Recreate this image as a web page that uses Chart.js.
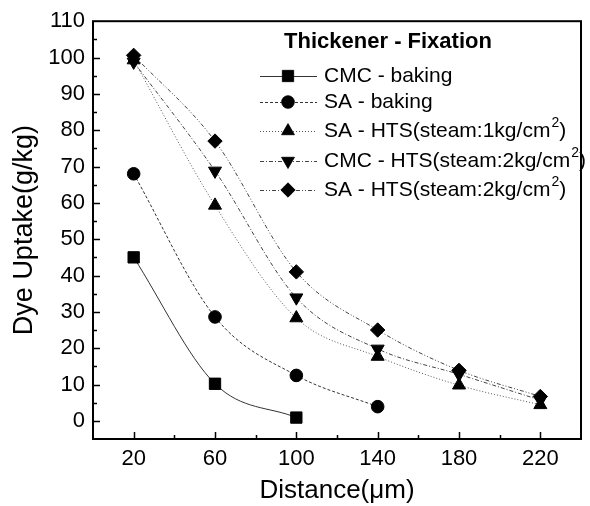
<!DOCTYPE html>
<html>
<head>
<meta charset="utf-8">
<script src="https://cdn.jsdelivr.net/npm/chart.js@4.4.0/dist/chart.umd.min.js"></script>
<style>
  html, body { margin: 0; padding: 0; background: #fff; }
  #wrap { width: 590px; height: 506px; }
</style>
</head>
<body>
<div id="wrap"><canvas id="chartCanvas" width="590" height="506"></canvas></div>
<script>
// data
const distances = [20, 60, 100, 140, 180, 220];
const cmcBaking = [45, 10.2, 0.9];
const saBaking = [68, 28.6, 12.5, 3.9];
const saHts1 = [99.3, 59.3, 28.3, 17.7, 9.8, 4.4];
const cmcHts2 = [98.8, 68.8, 33.9, 19.8, 12.8, 5.7];
const saHts2 = [100.6, 77, 41, 25, 13.9, 6.7];

const seriesNames = [
    ['CMC - baking', ''],
    ['SA - baking', ''],
    ['SA - HTS(steam:1kg/cm', '2', ')'],
    ['CMC - HTS(steam:2kg/cm', '2', ')'],
    ['SA - HTS(steam:2kg/cm', '2', ')']
];
const legendTitle = 'Thickener - Fixation';

const FONT = '"Liberation Sans", Arial, sans-serif';
const INK = '#000';

function toPoints(values) {
    return values.map((v, i) => ({ x: distances[i], y: v }));
}

function makeSet(label, values, style, dash, radius, rotation, color) {
    return {
        label: label,
        data: toPoints(values),
        borderColor: color,
        borderWidth: 1,
        borderDash: dash,
        backgroundColor: INK,
        pointBackgroundColor: INK,
        pointBorderColor: INK,
        pointBorderWidth: 1,
        pointStyle: style,
        pointRadius: radius,
        pointRotation: rotation,
        cubicInterpolationMode: 'monotone',
        fill: false
    };
}

const datasets = [
    makeSet(seriesNames[0][0], cmcBaking, 'rect', [], 8, 0, '#333'),
    makeSet(seriesNames[1][0], saBaking, 'circle', [3, 2], 6.3, 0, '#333'),
    makeSet(seriesNames[2][0], saHts1, 'triangle', [1, 2], 7.5, 0, '#555'),
    makeSet(seriesNames[3][0], cmcHts2, 'triangle', [4, 2, 1, 2], 7.5, 180, '#444'),
    makeSet(seriesNames[4][0], saHts2, 'rectRot', [4, 2, 1, 2, 1, 2], 7.2, 0, '#444')
];

// inward ticks + frame
const framePlugin = {
    id: 'frame',
    afterDatasetsDraw(chart) {
        const ctx = chart.ctx;
        const a = chart.chartArea;
        const xs = chart.scales.x;
        const ys = chart.scales.y;
        ctx.save();
        ctx.strokeStyle = INK;
        ctx.lineWidth = 1.5;
        ctx.beginPath();
        for (let v = 20; v < 240; v += 20) {
            const px = Math.round(xs.getPixelForValue(v)) + 0.5;
            const len = ((v - 20) % 40 === 0) ? 7 : 4;
            ctx.moveTo(px, a.bottom);
            ctx.lineTo(px, a.bottom - len);
        }
        for (let v = 0; v < 110; v += 5) {
            const py = Math.round(ys.getPixelForValue(v)) + 0.5;
            const len = (v % 10 === 0) ? 7 : 4;
            ctx.moveTo(a.left, py);
            ctx.lineTo(a.left + len, py);
        }
        ctx.stroke();
        ctx.lineWidth = 2;
        ctx.strokeRect(a.left, a.top, a.right - a.left, a.bottom - a.top);
        ctx.restore();
    }
};

// legend inside the plot, with superscripts
const legendPlugin = {
    id: 'insideLegend',
    afterDraw(chart) {
        const ctx = chart.ctx;
        const rows = [76, 102, 131, 161, 190];
        ctx.save();
        ctx.fillStyle = INK;
        ctx.textBaseline = 'middle';
        ctx.font = 'bold 22px ' + FONT;
        ctx.textAlign = 'center';
        ctx.fillText(legendTitle, 388, 42);
        ctx.textAlign = 'left';
        chart.data.datasets.forEach((ds, i) => {
            const y = rows[i];
            ctx.strokeStyle = ds.borderColor;
            ctx.lineWidth = 1;
            ctx.setLineDash(ds.borderDash);
            ctx.beginPath();
            ctx.moveTo(260, y + 0.5);
            ctx.lineTo(317, y + 0.5);
            ctx.stroke();
            ctx.setLineDash([]);
            Chart.helpers.drawPoint(ctx, {
                pointStyle: ds.pointStyle,
                radius: ds.pointRadius,
                rotation: ds.pointRotation,
                borderWidth: 1
            }, 288, y);
            ctx.fillStyle = INK;
            ctx.fill();
            const parts = seriesNames[i];
            let x = 324;
            ctx.font = '21px ' + FONT;
            ctx.fillText(parts[0], x, y);
            x += ctx.measureText(parts[0]).width;
            if (parts[1]) {
                ctx.font = '14px ' + FONT;
                ctx.fillText(parts[1], x + 1, y - 8);
                x += ctx.measureText(parts[1]).width + 1;
                ctx.font = '21px ' + FONT;
                ctx.fillText(parts[2], x, y);
            }
        });
        ctx.restore();
    }
};

new Chart(document.getElementById('chartCanvas'), {
    type: 'line',
    data: { datasets: datasets },
    options: {
        responsive: false,
        animation: false,
        layout: { padding: { top: 17, right: 2, left: 0, bottom: 0 } },
        plugins: {
            legend: { display: false },
            tooltip: { enabled: false }
        },
        scales: {
            x: {
                type: 'linear',
                min: 0,
                max: 240,
                grid: { display: false, drawTicks: false },
                border: { display: false },
                afterFit(scale) { scale.height = 67; },
                ticks: {
                    stepSize: 20,
                    autoSkip: false,
                    maxRotation: 0,
                    padding: 7,
                    color: INK,
                    font: { family: FONT, size: 22 },
                    callback: (v) => ((v - 20) % 40 === 0 ? String(v) : '')
                },
                title: {
                    display: true,
                    text: 'Distance(μm)',
                    color: INK,
                    font: { family: FONT, size: 26 },
                    padding: { top: 0, bottom: 0 }
                }
            },
            y: {
                min: -5,
                max: 110,
                grid: { display: false, drawTicks: false },
                border: { display: false },
                afterFit(scale) { scale.width = 93; },
                ticks: {
                    stepSize: 5,
                    autoSkip: false,
                    padding: 8,
                    color: INK,
                    font: { family: FONT, size: 22 },
                    callback: (v) => (v >= 0 && v % 10 === 0 ? String(v) : '')
                },
                title: {
                    display: true,
                    text: 'Dye Uptake(g/kg)',
                    color: INK,
                    font: { family: FONT, size: 27 },
                    padding: { top: 8, bottom: 0 }
                }
            }
        }
    },
    plugins: [framePlugin, legendPlugin]
});
</script>
</body>
</html>
